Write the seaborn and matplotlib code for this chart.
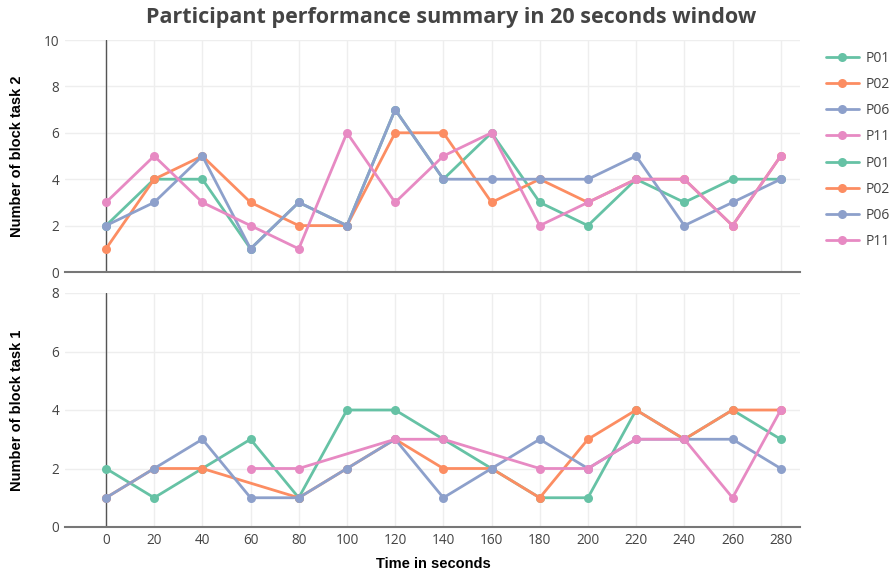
import numpy as np
import pandas as pd
import matplotlib
matplotlib.use("Agg")
import matplotlib.pyplot as plt
from matplotlib.lines import Line2D
import seaborn as sns

time = [0, 20, 40, 60, 80, 100, 120, 140, 160, 180, 200, 220, 240, 260, 280]
participants = ["P01", "P02", "P06", "P11"]
nan = np.nan

# Block task 2 (top panel)
t2_P01 = [2, 4, 4, 1, 3, 2, 7, 4, 6, 3, 2, 4, 3, 4, 4]
t2_P02 = [1, 4, 5, 3, 2, 2, 6, 6, 3, 4, 3, 4, 4, 2, 5]
t2_P06 = [2, 3, 5, 1, 3, 2, 7, 4, 4, 4, 4, 5, 2, 3, 4]
t2_P11 = [3, 5, 3, 2, 1, 6, 3, 5, 6, 2, 3, 4, 4, 2, 5]

# Block task 1 (bottom panel)
t1_P01 = [2, 1, 2, 3, 1, 4, 4, 3, 2, 1, 1, 4, 3, 4, 3]
t1_P02 = [1, 2, 2, nan, 1, 2, 3, 2, 2, 1, 3, 4, 3, 4, 4]
t1_P06 = [1, 2, 3, 1, 1, 2, 3, 1, 2, 3, 2, 3, 3, 3, 2]
t1_P11 = [nan, nan, nan, 2, 2, nan, 3, 3, nan, 2, 2, 3, 3, 1, 4]

colors = ["#66c2a5", "#fc8d62", "#8da0cb", "#e78ac3"]


def long_df(series):
    rows = []
    for p, vals in zip(participants, series):
        for t, v in zip(time, vals):
            rows.append({"time": t, "value": v, "participant": p})
    return pd.DataFrame(rows).dropna()


df2 = long_df([t2_P01, t2_P02, t2_P06, t2_P11])
df1 = long_df([t1_P01, t1_P02, t1_P06, t1_P11])

sns.set_theme(style="white")
plt.rcParams["font.family"] = ["Open Sans", "DejaVu Sans"]

W, H = 890, 577
fig = plt.figure(figsize=(W / 100, H / 100), dpi=100)
ax_top = fig.add_axes([65 / W, 1 - 272 / H, 735 / W, 232 / H])
ax_bot = fig.add_axes([65 / W, 1 - 527 / H, 735 / W, 234 / H])

palette = dict(zip(participants, colors))
for ax, df, ymax, yticks in [(ax_top, df2, 10, [0, 2, 4, 6, 8, 10]),
                             (ax_bot, df1, 8, [0, 2, 4, 6, 8])]:
    sns.lineplot(data=df, x="time", y="value", hue="participant",
                 hue_order=participants, palette=palette, sort=False,
                 estimator=None, marker="o", markersize=6.5, markeredgewidth=0,
                 linewidth=2, legend=False, ax=ax, zorder=3)
    ax.set_xlim(-17, 288)
    ax.set_ylim(0, ymax)
    ax.set_xticks(time)
    ax.set_yticks(yticks)
    ax.grid(True, color="#eeeeee", linewidth=1, zorder=0)
    ax.set_axisbelow(True)
    for s in ["top", "right", "left"]:
        ax.spines[s].set_visible(False)
    ax.spines["bottom"].set_color("#777777")
    ax.spines["bottom"].set_linewidth(1.5)
    ax.axvline(0, color="#555555", linewidth=1, zorder=2)
    ax.tick_params(axis="both", length=0, labelsize=9.8, labelcolor="#444444", pad=4)
    ax.set_xlabel("")
    ax.set_ylabel("")

ax_top.tick_params(axis="x", labelbottom=False)

lab_font = dict(family=["Liberation Sans", "DejaVu Sans"], fontweight="bold",
                fontsize=10.5, color="black")
fig.text(17 / W, 1 - 156 / H, "Number of block task 2", rotation=90,
         ha="center", va="center", **lab_font)
fig.text(17 / W, 1 - 410 / H, "Number of block task 1", rotation=90,
         ha="center", va="center", **lab_font)
fig.text(433 / W, 1 - 564 / H, "Time in seconds", ha="center", va="center",
         **lab_font)

fig.text(451 / W, 1 - 18 / H, "Participant performance summary in 20 seconds window",
         ha="center", va="center", fontsize=15.5, fontweight="bold",
         color="#444444")

handles = []
labels = []
for _ in range(2):
    for p, c in zip(participants, colors):
        handles.append(Line2D([0], [0], color=c, linewidth=2, marker="o",
                              markersize=6.5, markeredgewidth=0))
        labels.append(p)
leg = fig.legend(handles, labels, loc="upper left",
                 bbox_to_anchor=(820 / W, 1 - 45 / H), frameon=False,
                 fontsize=10, handlelength=2.4, labelspacing=0.81,
                 handletextpad=0.45, borderaxespad=0)
for t in leg.get_texts():
    t.set_color("#444444")

fig.savefig("out.png", dpi=100)
